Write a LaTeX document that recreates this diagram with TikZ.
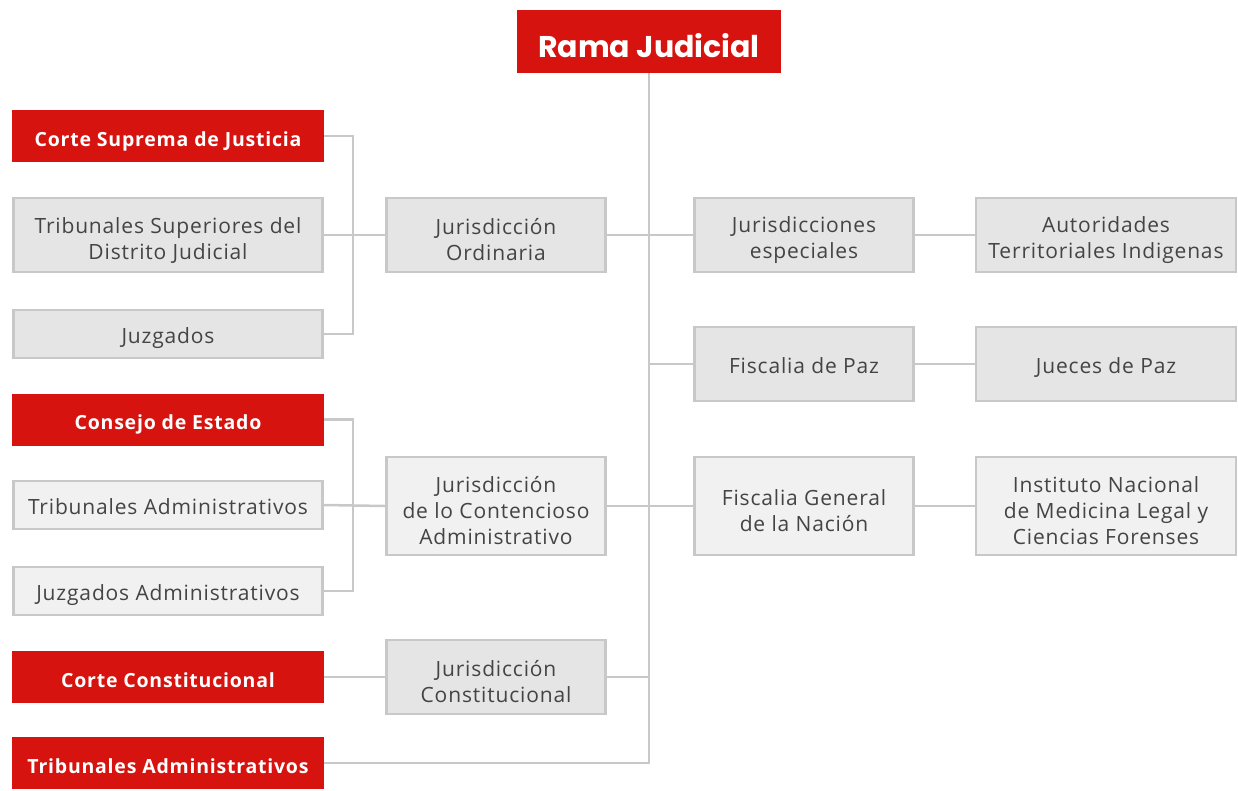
\documentclass[tikz,border=0pt]{standalone}
\usepackage{fontspec}
\setmainfont{Open Sans}
\newfontfamily\bodyfont[LetterSpace=4]{Open Sans}
\newfontfamily\redfont[LetterSpace=4]{Open Sans}
\newfontfamily\titlefont{Poppins}
\usepackage{tikz}
\usetikzlibrary{positioning, calc}
\definecolor{ramared}{RGB}{214,19,14}
\definecolor{linegray}{RGB}{200,200,200}
\definecolor{boxgray}{RGB}{229,229,229}
\definecolor{boxlight}{RGB}{241,241,241}
\definecolor{textgray}{RGB}{68,68,68}
% struts that push the text a little below the box centre
\newcommand{\onestrut}{\rule[-6pt]{0pt}{30pt}}
\newcommand{\multistrut}{\rule{0pt}{26pt}}
\newcommand{\redstrut}{\rule[-6pt]{0pt}{32pt}}

\begin{document}
\begin{tikzpicture}[
    x=1pt, y=-1pt,
    redbox/.style={rectangle, fill=ramared, inner sep=0pt, minimum width=312pt, minimum height=52pt, text=white, font=\redfont\bfseries\fontsize{19.5}{26}\selectfont},
    graybox/.style={rectangle, draw=linegray, fill=boxgray, line width=2.5pt, inner sep=0pt, align=center, text=textgray, font=\bodyfont\fontsize{21}{26}\selectfont},
    lightbox/.style={graybox, fill=boxlight},
    leftbox/.style={minimum width=309pt, minimum height=48pt},
    midbox/.style={minimum width=219pt, minimum height=74pt},
    rightbox/.style={minimum width=260pt, minimum height=74pt},
    link/.style={draw=linegray, line width=2.5pt}
]
    \useasboundingbox (0,0) rectangle (1238,790);

    % --- Root ---
    \node[rectangle, fill=ramared, inner sep=0pt, minimum width=264pt, minimum height=63pt, text=white, font=\titlefont\bfseries\fontsize{30}{34}\selectfont] (rama) at (649,41.5) {\rule[-5pt]{0pt}{42pt}Rama Judicial};

    % --- Left column ---
    \node[redbox] (corte-sup) at (168,136) {\redstrut Corte Suprema de Justicia};
    \node[graybox, leftbox, minimum height=74pt] (trib-sup) at (168,235) {\multistrut Tribunales Superiores del\\Distrito Judicial};
    \node[graybox, leftbox] (juzgados) at (168,334) {\onestrut Juzgados};

    \node[redbox] (consejo) at (168,419.5) {\redstrut Consejo de Estado};
    \node[lightbox, leftbox] (trib-adm) at (168,505) {\onestrut Tribunales Administrativos};
    \node[lightbox, leftbox] (juz-adm) at (168,591) {\onestrut Juzgados Administrativos};

    \node[redbox] (corte-const) at (168,677) {\redstrut Corte Constitucional};
    \node[redbox] (trib-red) at (168,763) {\redstrut Tribunales Administrativos};

    % --- Jurisdicciones ---
    \node[graybox, midbox] (jur-ord) at (496,235) {\multistrut Jurisdicción\\Ordinaria};
    \node[lightbox, midbox, minimum height=98pt] (jur-cont) at (496,506) {\multistrut Jurisdicción\\de lo Contencioso\\Administrativo};
    \node[graybox, midbox] (jur-const) at (496,677) {\multistrut Jurisdicción\\Constitucional};

    % --- Right side ---
    \node[graybox, midbox] (jur-esp) at (804,235) {\multistrut Jurisdicciones\\especiales};
    \node[graybox, midbox] (fisc-paz) at (804,364) {\onestrut Fiscalia de Paz};
    \node[lightbox, midbox, minimum height=98pt] (fisc-gen) at (804,506) {\multistrut Fiscalia General\\de la Nación};

    \node[graybox, rightbox] (autoridades) at (1106,235) {\multistrut Autoridades\\Territoriales Indigenas};
    \node[graybox, rightbox] (jueces) at (1106,364) {\onestrut Jueces de Paz};
    \node[lightbox, rightbox, minimum height=98pt] (instituto) at (1106,506) {\multistrut Instituto Nacional\\de Medicina Legal y\\Ciencias Forenses};

    % --- Connections ---
    % trunk
    \draw[link] (rama.south) |- (trib-red.east);
    \draw[link] (jur-ord.east) -- (jur-esp.west);
    \draw[link] (fisc-paz.west) -- (fisc-paz.west -| rama.south);
    \draw[link] (jur-cont.east) -- (fisc-gen.west);
    \draw[link] (jur-const.east) -- (jur-const.east -| rama.south);

    % ordinaria
    \draw[link] (corte-sup.east) -- ++(29,0) |- (juzgados.east);
    \draw[link] (trib-sup.east) -- (jur-ord.west);

    % contencioso
    \draw[link] (consejo.east) -- ++(29,0) |- (juz-adm.east);
    \draw[link] (trib-adm.east) -- (jur-cont.west);

    % constitucional
    \draw[link] (corte-const.east) -- (jur-const.west);

    % right
    \draw[link] (jur-esp.east) -- (autoridades.west);
    \draw[link] (fisc-paz.east) -- (jueces.west);
    \draw[link] (fisc-gen.east) -- (instituto.west);

\end{tikzpicture}
\end{document}
